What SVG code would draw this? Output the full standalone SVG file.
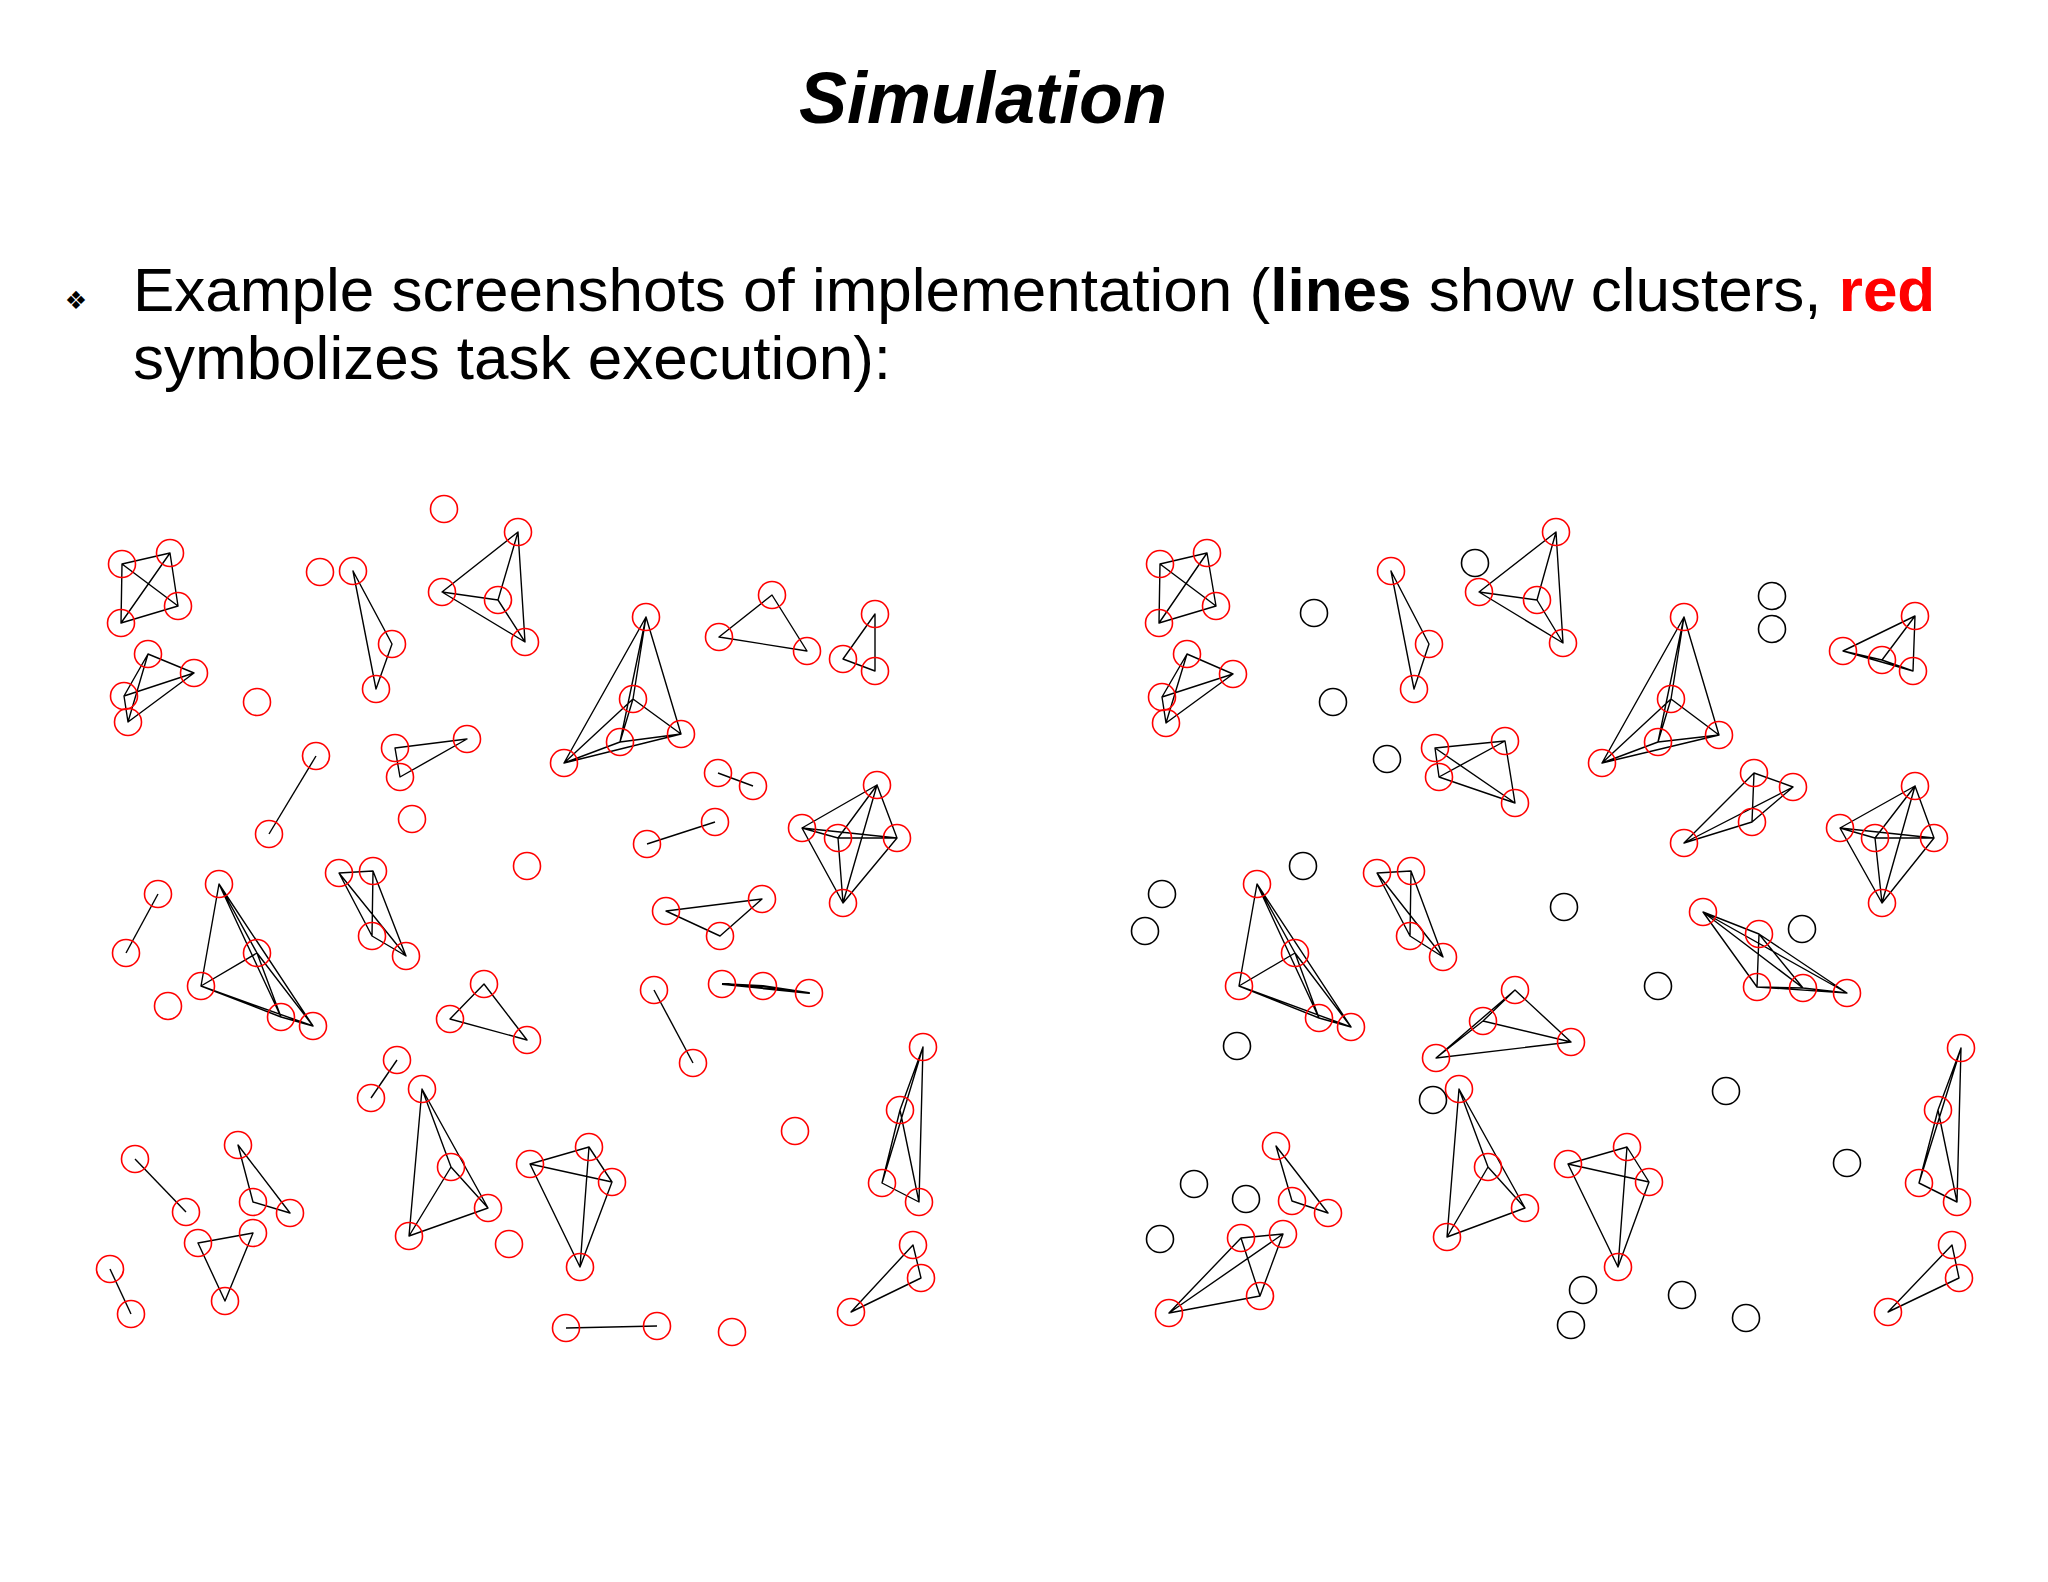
<svg xmlns="http://www.w3.org/2000/svg" width="2048" height="1582" viewBox="0 0 2048 1582">
<style>
.r{fill:none;stroke:#ff0000;stroke-width:1.6}
.k{fill:none;stroke:#000;stroke-width:1.6}
.ln{fill:none;stroke:#000;stroke-width:1.4;stroke-linejoin:round}
.t{font-family:"Liberation Sans",Arial,sans-serif;fill:#000}
</style>
<rect width="2048" height="1582" fill="#fff"/>
<g id="title"><text class="t" x="983" y="123" font-size="72" font-weight="bold" font-style="italic" text-anchor="middle">Simulation</text></g>
<g id="bullet">
<text x="76" y="309" font-family="DejaVu Sans,sans-serif" font-size="25" text-anchor="middle">❖</text>
<text class="t" x="133" y="311" font-size="62">Example screenshots of implementation (<tspan font-weight="bold">lines</tspan> show clusters, <tspan font-weight="bold" fill="#ff0000">red</tspan></text>
<text class="t" x="133" y="379" font-size="62">symbolizes task execution):</text>
</g>
<g id="connectors" class="ln">
<path d="M122 564L170 553L178 606L121 623ZM122 564L178 606M170 553L121 623"/>
<path d="M148 654L194 673L124 696L128 722ZM148 654L124 696M194 673L128 722"/>
<path d="M353 571L392 644L376 689Z"/>
<path d="M442 592L518 532L498 600L525 642ZM442 592L498 600M518 532L525 642"/>
<path d="M316 756L269 834"/>
<path d="M395 748L467 739L400 777Z"/>
<path d="M646 617L633 699L620 742L681 734L564 763L646 617L620 742L564 763L633 699L681 734L646 617"/>
<path d="M772 595L719 637L807 651Z"/>
<path d="M875 614L843 659L875 671Z"/>
<path d="M718 773L753 786"/>
<path d="M647 844L715 822"/>
<path d="M877 785L802 828L838 838L897 838L843 903L877 785L838 838L843 903L802 828L897 838L877 785"/>
<path d="M666 911L762 899L720 936Z"/>
<path d="M654 990L693 1063"/>
<path d="M722 984L763 986L809 993L722 984" stroke-width="2"/>
<path d="M923 1047L900 1110L882 1183L919 1202ZM923 1047L882 1183M900 1110L919 1202"/>
<path d="M530 1164L589 1147L612 1182L580 1267ZM530 1164L612 1182M589 1147L580 1267"/>
<path d="M913 1245L921 1278L851 1312Z"/>
<path d="M566 1328L657 1326"/>
<path d="M158 894L126 953"/>
<path d="M219 884L257 953L201 986L281 1017L313 1026L219 884L201 986L313 1026L257 953L281 1017L219 884"/>
<path d="M339 873L373 871L406 956L372 936ZM339 873L406 956M373 871L372 936"/>
<path d="M484 984L450 1019L527 1040Z"/>
<path d="M397 1060L371 1098"/>
<path d="M422 1089L451 1167L488 1208L409 1236ZM422 1089L488 1208M451 1167L409 1236"/>
<path d="M135 1159L186 1212"/>
<path d="M238 1145L253 1202L290 1213Z"/>
<path d="M198 1243L253 1233L225 1301Z"/>
<path d="M110 1269L131 1314"/>
<path d="M1160 564L1207 553L1216 606L1159 623ZM1160 564L1216 606M1207 553L1159 623"/>
<path d="M1187 654L1233 674L1162 697L1166 723ZM1187 654L1162 697M1233 674L1166 723"/>
<path d="M1391 571L1429 644L1414 689Z"/>
<path d="M1479 592L1556 532L1537 600L1563 643ZM1479 592L1537 600M1556 532L1563 643"/>
<path d="M1435 748L1505 741L1515 803L1439 777ZM1435 748L1515 803M1505 741L1439 777"/>
<path d="M1684 617L1671 699L1658 742L1719 735L1602 763L1684 617L1658 742L1602 763L1671 699L1719 735L1684 617"/>
<path d="M1843 651L1915 616L1913 671L1882 660ZM1843 651L1913 671M1915 616L1882 660"/>
<path d="M1754 773L1793 787L1752 822L1684 843ZM1754 773L1752 822M1793 787L1684 843"/>
<path d="M1915 786L1840 828L1875 838L1934 838L1882 903L1915 786L1875 838L1882 903L1840 828L1934 838L1915 786"/>
<path d="M1703 912L1759 934L1757 987L1803 988L1847 993L1703 912L1757 987L1847 993L1759 934L1803 988L1703 912"/>
<path d="M1257 884L1295 953L1239 986L1319 1018L1351 1027L1257 884L1239 986L1351 1027L1295 953L1319 1018L1257 884"/>
<path d="M1377 873L1411 871L1443 957L1410 936ZM1377 873L1443 957M1411 871L1410 936"/>
<path d="M1515 990L1571 1042L1436 1058L1483 1021ZM1515 990L1436 1058M1571 1042L1483 1021"/>
<path d="M1459 1089L1488 1167L1525 1208L1447 1237ZM1459 1089L1525 1208M1488 1167L1447 1237"/>
<path d="M1961 1048L1938 1110L1919 1183L1957 1202ZM1961 1048L1919 1183M1938 1110L1957 1202"/>
<path d="M1568 1164L1627 1147L1649 1182L1618 1267ZM1568 1164L1649 1182M1627 1147L1618 1267"/>
<path d="M1276 1146L1292 1201L1328 1213Z"/>
<path d="M1241 1238L1283 1234L1260 1296L1169 1313ZM1241 1238L1260 1296M1283 1234L1169 1313"/>
<path d="M1952 1245L1959 1278L1888 1312Z"/>
</g>
<g id="left-panel" class="r">
<g id="L-iso"><circle cx="444" cy="509" r="13.5"/><circle cx="320" cy="572" r="13.5"/><circle cx="257" cy="702" r="13.5"/><circle cx="412" cy="819" r="13.5"/><circle cx="527" cy="866" r="13.5"/><circle cx="795" cy="1131" r="13.5"/><circle cx="509" cy="1244" r="13.5"/><circle cx="732" cy="1332" r="13.5"/><circle cx="168" cy="1006" r="13.5"/></g>
<g id="L-A"><circle cx="122" cy="564" r="13.5"/><circle cx="170" cy="553" r="13.5"/><circle cx="178" cy="606" r="13.5"/><circle cx="121" cy="623" r="13.5"/></g>
<g id="L-B"><circle cx="148" cy="654" r="13.5"/><circle cx="194" cy="673" r="13.5"/><circle cx="124" cy="696" r="13.5"/><circle cx="128" cy="722" r="13.5"/></g>
<g id="L-C"><circle cx="353" cy="571" r="13.5"/><circle cx="392" cy="644" r="13.5"/><circle cx="376" cy="689" r="13.5"/></g>
<g id="L-D"><circle cx="442" cy="592" r="13.5"/><circle cx="518" cy="532" r="13.5"/><circle cx="498" cy="600" r="13.5"/><circle cx="525" cy="642" r="13.5"/></g>
<g id="L-E"><circle cx="316" cy="756" r="13.5"/><circle cx="269" cy="834" r="13.5"/></g>
<g id="L-F"><circle cx="395" cy="748" r="13.5"/><circle cx="467" cy="739" r="13.5"/><circle cx="400" cy="777" r="13.5"/></g>
<g id="L-G"><circle cx="646" cy="617" r="13.5"/><circle cx="633" cy="699" r="13.5"/><circle cx="620" cy="742" r="13.5"/><circle cx="681" cy="734" r="13.5"/><circle cx="564" cy="763" r="13.5"/></g>
<g id="L-H"><circle cx="772" cy="595" r="13.5"/><circle cx="719" cy="637" r="13.5"/><circle cx="807" cy="651" r="13.5"/></g>
<g id="L-I"><circle cx="875" cy="614" r="13.5"/><circle cx="843" cy="659" r="13.5"/><circle cx="875" cy="671" r="13.5"/></g>
<g id="L-pair1"><circle cx="718" cy="773" r="13.5"/><circle cx="753" cy="786" r="13.5"/></g>
<g id="L-pair2"><circle cx="647" cy="844" r="13.5"/><circle cx="715" cy="822" r="13.5"/></g>
<g id="L-J"><circle cx="877" cy="785" r="13.5"/><circle cx="802" cy="828" r="13.5"/><circle cx="838" cy="838" r="13.5"/><circle cx="897" cy="838" r="13.5"/><circle cx="843" cy="903" r="13.5"/></g>
<g id="L-K"><circle cx="666" cy="911" r="13.5"/><circle cx="762" cy="899" r="13.5"/><circle cx="720" cy="936" r="13.5"/></g>
<g id="L-pair3"><circle cx="654" cy="990" r="13.5"/><circle cx="693" cy="1063" r="13.5"/></g>
<g id="L-trio"><circle cx="722" cy="984" r="13.5"/><circle cx="763" cy="986" r="13.5"/><circle cx="809" cy="993" r="13.5"/></g>
<g id="L-L"><circle cx="923" cy="1047" r="13.5"/><circle cx="900" cy="1110" r="13.5"/><circle cx="882" cy="1183" r="13.5"/><circle cx="919" cy="1202" r="13.5"/></g>
<g id="L-M"><circle cx="530" cy="1164" r="13.5"/><circle cx="589" cy="1147" r="13.5"/><circle cx="612" cy="1182" r="13.5"/><circle cx="580" cy="1267" r="13.5"/></g>
<g id="L-N"><circle cx="913" cy="1245" r="13.5"/><circle cx="921" cy="1278" r="13.5"/><circle cx="851" cy="1312" r="13.5"/></g>
<g id="L-pair4"><circle cx="566" cy="1328" r="13.5"/><circle cx="657" cy="1326" r="13.5"/></g>
<g id="L-pair5"><circle cx="158" cy="894" r="13.5"/><circle cx="126" cy="953" r="13.5"/></g>
<g id="L-O"><circle cx="219" cy="884" r="13.5"/><circle cx="257" cy="953" r="13.5"/><circle cx="201" cy="986" r="13.5"/><circle cx="281" cy="1017" r="13.5"/><circle cx="313" cy="1026" r="13.5"/></g>
<g id="L-P"><circle cx="339" cy="873" r="13.5"/><circle cx="373" cy="871" r="13.5"/><circle cx="372" cy="936" r="13.5"/><circle cx="406" cy="956" r="13.5"/></g>
<g id="L-Q"><circle cx="484" cy="984" r="13.5"/><circle cx="450" cy="1019" r="13.5"/><circle cx="527" cy="1040" r="13.5"/></g>
<g id="L-pair6"><circle cx="397" cy="1060" r="13.5"/><circle cx="371" cy="1098" r="13.5"/></g>
<g id="L-R"><circle cx="422" cy="1089" r="13.5"/><circle cx="451" cy="1167" r="13.5"/><circle cx="488" cy="1208" r="13.5"/><circle cx="409" cy="1236" r="13.5"/></g>
<g id="L-pair7"><circle cx="135" cy="1159" r="13.5"/><circle cx="186" cy="1212" r="13.5"/></g>
<g id="L-S"><circle cx="238" cy="1145" r="13.5"/><circle cx="253" cy="1202" r="13.5"/><circle cx="290" cy="1213" r="13.5"/></g>
<g id="L-T"><circle cx="198" cy="1243" r="13.5"/><circle cx="253" cy="1233" r="13.5"/><circle cx="225" cy="1301" r="13.5"/></g>
<g id="L-pair8"><circle cx="110" cy="1269" r="13.5"/><circle cx="131" cy="1314" r="13.5"/></g>
</g>
<g id="right-panel" class="r">
<g id="R-A"><circle cx="1160" cy="564" r="13.5"/><circle cx="1207" cy="553" r="13.5"/><circle cx="1216" cy="606" r="13.5"/><circle cx="1159" cy="623" r="13.5"/></g>
<g id="R-B"><circle cx="1187" cy="654" r="13.5"/><circle cx="1233" cy="674" r="13.5"/><circle cx="1162" cy="697" r="13.5"/><circle cx="1166" cy="723" r="13.5"/></g>
<g id="R-C"><circle cx="1391" cy="571" r="13.5"/><circle cx="1429" cy="644" r="13.5"/><circle cx="1414" cy="689" r="13.5"/></g>
<g id="R-D"><circle cx="1479" cy="592" r="13.5"/><circle cx="1556" cy="532" r="13.5"/><circle cx="1537" cy="600" r="13.5"/><circle cx="1563" cy="643" r="13.5"/></g>
<g id="R-E"><circle cx="1435" cy="748" r="13.5"/><circle cx="1505" cy="741" r="13.5"/><circle cx="1439" cy="777" r="13.5"/><circle cx="1515" cy="803" r="13.5"/></g>
<g id="R-G"><circle cx="1684" cy="617" r="13.5"/><circle cx="1671" cy="699" r="13.5"/><circle cx="1658" cy="742" r="13.5"/><circle cx="1719" cy="735" r="13.5"/><circle cx="1602" cy="763" r="13.5"/></g>
<g id="R-H"><circle cx="1843" cy="651" r="13.5"/><circle cx="1915" cy="616" r="13.5"/><circle cx="1882" cy="660" r="13.5"/><circle cx="1913" cy="671" r="13.5"/></g>
<g id="R-I"><circle cx="1754" cy="773" r="13.5"/><circle cx="1793" cy="787" r="13.5"/><circle cx="1752" cy="822" r="13.5"/><circle cx="1684" cy="843" r="13.5"/></g>
<g id="R-J"><circle cx="1915" cy="786" r="13.5"/><circle cx="1840" cy="828" r="13.5"/><circle cx="1875" cy="838" r="13.5"/><circle cx="1934" cy="838" r="13.5"/><circle cx="1882" cy="903" r="13.5"/></g>
<g id="R-K"><circle cx="1703" cy="912" r="13.5"/><circle cx="1759" cy="934" r="13.5"/><circle cx="1757" cy="987" r="13.5"/><circle cx="1803" cy="988" r="13.5"/><circle cx="1847" cy="993" r="13.5"/></g>
<g id="R-O"><circle cx="1257" cy="884" r="13.5"/><circle cx="1295" cy="953" r="13.5"/><circle cx="1239" cy="986" r="13.5"/><circle cx="1319" cy="1018" r="13.5"/><circle cx="1351" cy="1027" r="13.5"/></g>
<g id="R-P"><circle cx="1377" cy="873" r="13.5"/><circle cx="1411" cy="871" r="13.5"/><circle cx="1410" cy="936" r="13.5"/><circle cx="1443" cy="957" r="13.5"/></g>
<g id="R-Q"><circle cx="1515" cy="990" r="13.5"/><circle cx="1483" cy="1021" r="13.5"/><circle cx="1436" cy="1058" r="13.5"/><circle cx="1571" cy="1042" r="13.5"/></g>
<g id="R-R"><circle cx="1459" cy="1089" r="13.5"/><circle cx="1488" cy="1167" r="13.5"/><circle cx="1525" cy="1208" r="13.5"/><circle cx="1447" cy="1237" r="13.5"/></g>
<g id="R-L"><circle cx="1961" cy="1048" r="13.5"/><circle cx="1938" cy="1110" r="13.5"/><circle cx="1919" cy="1183" r="13.5"/><circle cx="1957" cy="1202" r="13.5"/></g>
<g id="R-M"><circle cx="1568" cy="1164" r="13.5"/><circle cx="1627" cy="1147" r="13.5"/><circle cx="1649" cy="1182" r="13.5"/><circle cx="1618" cy="1267" r="13.5"/></g>
<g id="R-S"><circle cx="1276" cy="1146" r="13.5"/><circle cx="1292" cy="1201" r="13.5"/><circle cx="1328" cy="1213" r="13.5"/></g>
<g id="R-T"><circle cx="1241" cy="1238" r="13.5"/><circle cx="1283" cy="1234" r="13.5"/><circle cx="1260" cy="1296" r="13.5"/><circle cx="1169" cy="1313" r="13.5"/></g>
<g id="R-N"><circle cx="1952" cy="1245" r="13.5"/><circle cx="1959" cy="1278" r="13.5"/><circle cx="1888" cy="1312" r="13.5"/></g>
<g id="R-idle" class="k"><circle cx="1314" cy="613" r="13.5"/><circle cx="1333" cy="702" r="13.5"/><circle cx="1387" cy="759" r="13.5"/><circle cx="1475" cy="563" r="13.5"/><circle cx="1303" cy="866" r="13.5"/><circle cx="1162" cy="894" r="13.5"/><circle cx="1145" cy="931" r="13.5"/><circle cx="1772" cy="596" r="13.5"/><circle cx="1772" cy="629" r="13.5"/><circle cx="1564" cy="907" r="13.5"/><circle cx="1802" cy="929" r="13.5"/><circle cx="1658" cy="986" r="13.5"/><circle cx="1726" cy="1091" r="13.5"/><circle cx="1847" cy="1163" r="13.5"/><circle cx="1237" cy="1046" r="13.5"/><circle cx="1433" cy="1100" r="13.5"/><circle cx="1194" cy="1184" r="13.5"/><circle cx="1246" cy="1199" r="13.5"/><circle cx="1160" cy="1239" r="13.5"/><circle cx="1583" cy="1290" r="13.5"/><circle cx="1682" cy="1295" r="13.5"/><circle cx="1746" cy="1318" r="13.5"/><circle cx="1571" cy="1325" r="13.5"/></g>
</g>
</svg>
